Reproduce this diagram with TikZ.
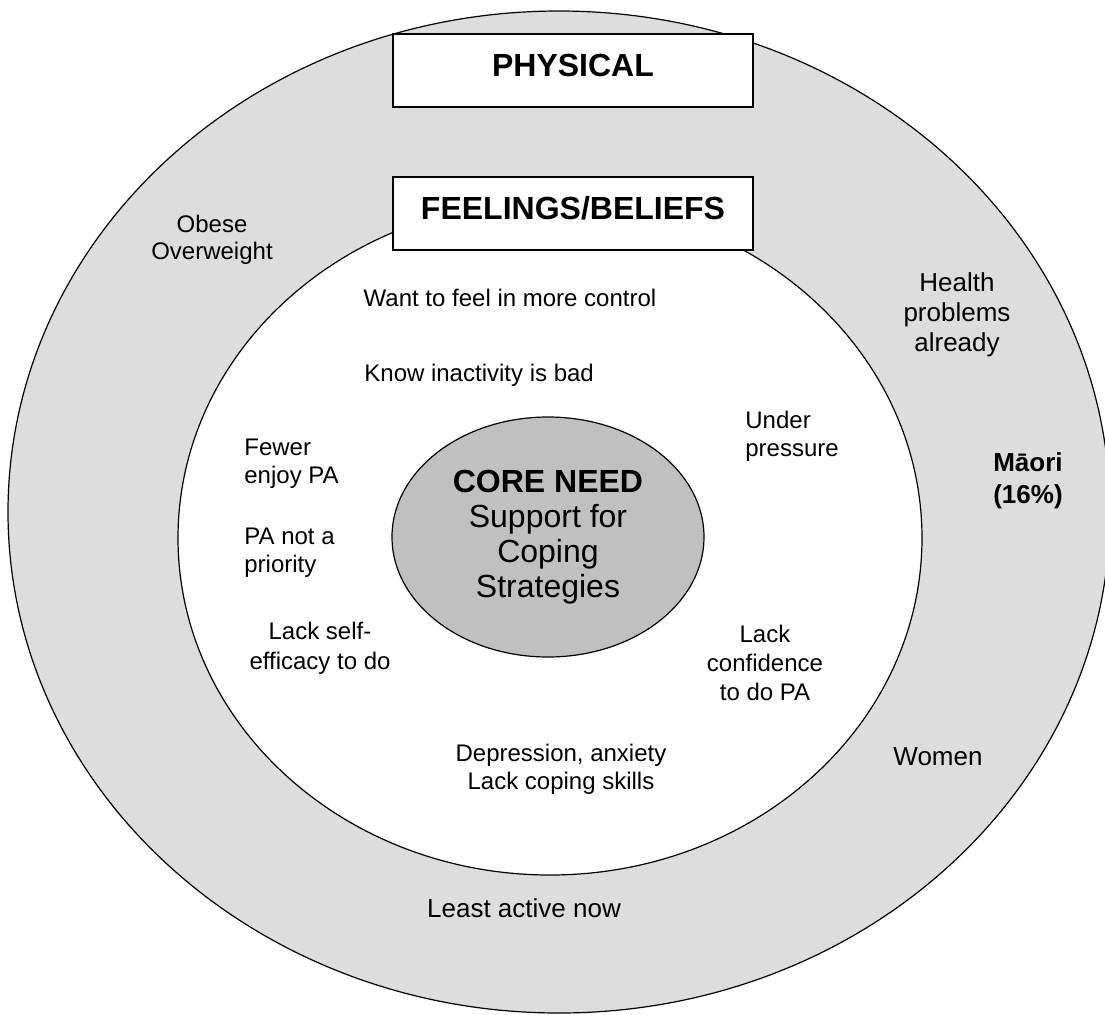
\documentclass[tikz,border=0pt]{standalone}
\usepackage{fontspec}
\setmainfont{Liberation Sans}
\usetikzlibrary{shapes.geometric}
\definecolor{ringgray}{HTML}{DDDDDD}
\definecolor{coregray}{HTML}{C0C0C0}
\begin{document}
\begin{tikzpicture}[x=0.5pt,y=-0.5pt,
  ring/.style={ellipse,draw=black,line width=0.6pt,inner sep=0pt},
  titlebox/.style={rectangle,draw=black,fill=white,line width=0.6pt,minimum width=180pt,minimum height=36.5pt,inner sep=0pt,text height=12pt,text depth=6pt,font=\fontsize{16}{18}\selectfont\bfseries},
  txt/.style={inner sep=0pt,font=\fontsize{12}{14}\selectfont,align=center},
  txtl/.style={inner sep=0pt,font=\fontsize{12}{14}\selectfont,align=left,anchor=west},
  bigtxt/.style={inner sep=0pt,font=\fontsize{13}{15}\selectfont,align=center}]
\useasboundingbox (0,0) rectangle (1105,1014);
\clip (0,0) rectangle (1105,1014);
% rings
\node[ring,fill=ringgray,minimum width=551pt,minimum height=501pt] (outer) at (559,512) {};
\node[ring,fill=white,minimum width=372pt,minimum height=337pt] (inner) at (550,538) {};
\node[ring,fill=coregray,minimum width=156pt,minimum height=120pt,align=center,font=\fontsize{16}{17.5}\selectfont] (core) at (548,537)
  {\textbf{CORE NEED}\\Support for\\Coping\\Strategies};
% title boxes
\node[titlebox] (physical) at (573,70.5) {PHYSICAL};
\node[titlebox] (feelings) at (573,213.5) {FEELINGS/BELIEFS};
% inner texts
\node[txt] (want) at (510,298) {Want to feel in more control};
\node[txtl] (know) at (364,375) {Know inactivity is bad};
\node[txtl] (under) at (745,436) {Under\\pressure};
\node[txtl] (fewer) at (244,464) {Fewer\\enjoy PA};
\node[txtl] (prio) at (244,553) {PA not a\\priority};
\node[txt,font=\fontsize{12}{15}\selectfont] (selfeff) at (320,648) {Lack self-\\efficacy to do};
\node[txt,font=\fontsize{12}{14.5}\selectfont] (confid) at (765,663) {Lack\\confidence\\to do PA};
\node[txt] (depr) at (561,769) {Depression, anxiety\\Lack coping skills};
% outer ring texts
\node[txt,font=\fontsize{12}{13.5}\selectfont] (obese) at (212,240) {Obese\\Overweight};
\node[bigtxt] (health) at (957,315) {Health\\problems\\already};
\node[bigtxt,font=\fontsize{13}{16}\selectfont\bfseries] (maori) at (1028,481) {Māori\\(16\%)};
\node[bigtxt] (women) at (938,757) {Women};
\node[bigtxt] (least) at (524,908) {Least active now};
\end{tikzpicture}
\end{document}
